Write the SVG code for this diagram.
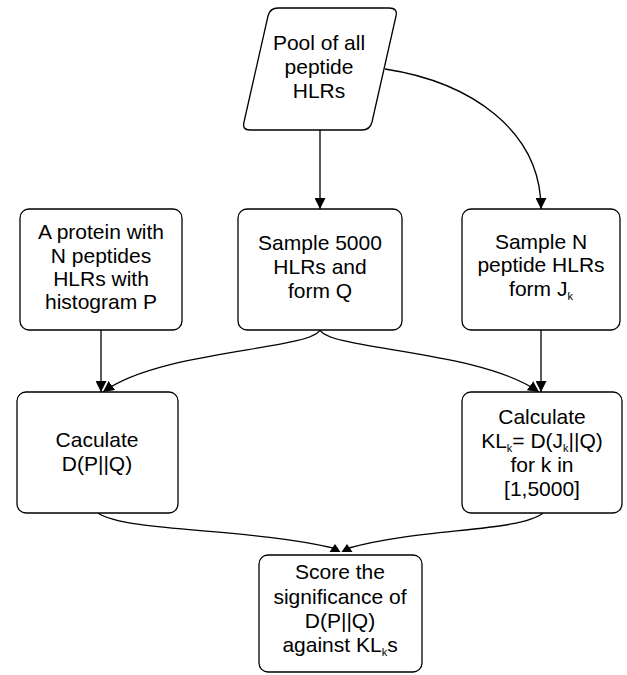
<svg xmlns="http://www.w3.org/2000/svg" width="627" height="675" viewBox="0 0 627 675">
<defs>
<style>
.box{fill:#fff;stroke:#000;stroke-width:1.3}
.edge{fill:none;stroke:#000;stroke-width:1.3}
.head{fill:#000;stroke:none}
text{font-family:"Liberation Sans",Arial,sans-serif;font-size:21px;fill:#000;text-anchor:middle}
.sub{font-size:11px;fill:#000}
</style>
<marker id="ah" viewBox="0 0 10 10" refX="10" refY="5" markerWidth="11" markerHeight="11" markerUnits="userSpaceOnUse" orient="auto">
<path d="M0,0 L10,5 L0,10 z" fill="#000"/>
</marker>
</defs>
<rect width="627" height="675" fill="#fff"/>
<g id="connectors">
<path class="edge" d="M320,130 L320,209" marker-end="url(#ah)"/>
<path class="edge" d="M385,69 C470,82 541,130 541,209" marker-end="url(#ah)"/>
<path class="edge" d="M101,330 L101,392" marker-end="url(#ah)"/>
<path class="edge" d="M541,330 L541,392" marker-end="url(#ah)"/>
<path class="edge" d="M320,330 C310,350 160,350 103,392" marker-end="url(#ah)"/>
<path class="edge" d="M320,330 C330,350 480,350 539,392" marker-end="url(#ah)"/>
<path class="edge" d="M98,513 C125,532 250,528 333,548"/>
<path class="edge" d="M543,513 C520,532 420,528 349,548"/>
<polygon class="head" points="329.5,552 340.5,552 335,544"/>
<polygon class="head" points="341.5,552 352.5,552 347,544"/>
</g>
<g id="pool">
<path class="box" d="M278,8 L389,8 Q398,8 396,16 L372,122 Q370,130 362,130 L250,130 Q242,130 244,122 L268,16 Q270,8 278,8 Z"/>
<text x="319" y="50">Pool of all</text>
<text x="319" y="74">peptide</text>
<text x="319" y="98">HLRs</text>
</g>
<g id="protein">
<rect class="box" x="20" y="209" width="162" height="121" rx="9"/>
<text x="101" y="239">A protein with</text>
<text x="101" y="263">N peptides</text>
<text x="101" y="286">HLRs with</text>
<text x="101" y="309">histogram P</text>
</g>
<g id="sampleQ">
<rect class="box" x="238" y="209" width="164" height="121" rx="9"/>
<text x="320" y="250">Sample 5000</text>
<text x="320" y="274">HLRs and</text>
<text x="320" y="298">form Q</text>
</g>
<g id="sampleJ">
<rect class="box" x="462" y="209" width="158" height="121" rx="9"/>
<text x="541" y="249">Sample N</text>
<text x="541" y="272">peptide HLRs</text>
<text x="541" y="296">form J<tspan class="sub" dy="4">k</tspan></text>
</g>
<g id="calcP">
<rect class="box" x="17" y="392" width="161" height="121" rx="9"/>
<text x="97" y="447">Caculate</text>
<text x="97" y="471">D(P||Q)</text>
</g>
<g id="calcKL">
<rect class="box" x="462" y="392" width="160" height="121" rx="9"/>
<text x="542" y="424">Calculate</text>
<text x="542" y="448">KL<tspan class="sub" dy="4">k</tspan><tspan dy="-4">= D(J</tspan><tspan class="sub" dy="4">k</tspan><tspan dy="-4">||Q)</tspan></text>
<text x="542" y="472">for k in</text>
<text x="542" y="496">[1,5000]</text>
</g>
<g id="score">
<rect class="box" x="259" y="555" width="163" height="117" rx="9"/>
<text x="340" y="579">Score the</text>
<text x="340" y="604">significance of</text>
<text x="340" y="628">D(P||Q)</text>
<text x="340" y="652">against KL<tspan class="sub" dy="4">k</tspan><tspan dy="-4">s</tspan></text>
</g>
</svg>
